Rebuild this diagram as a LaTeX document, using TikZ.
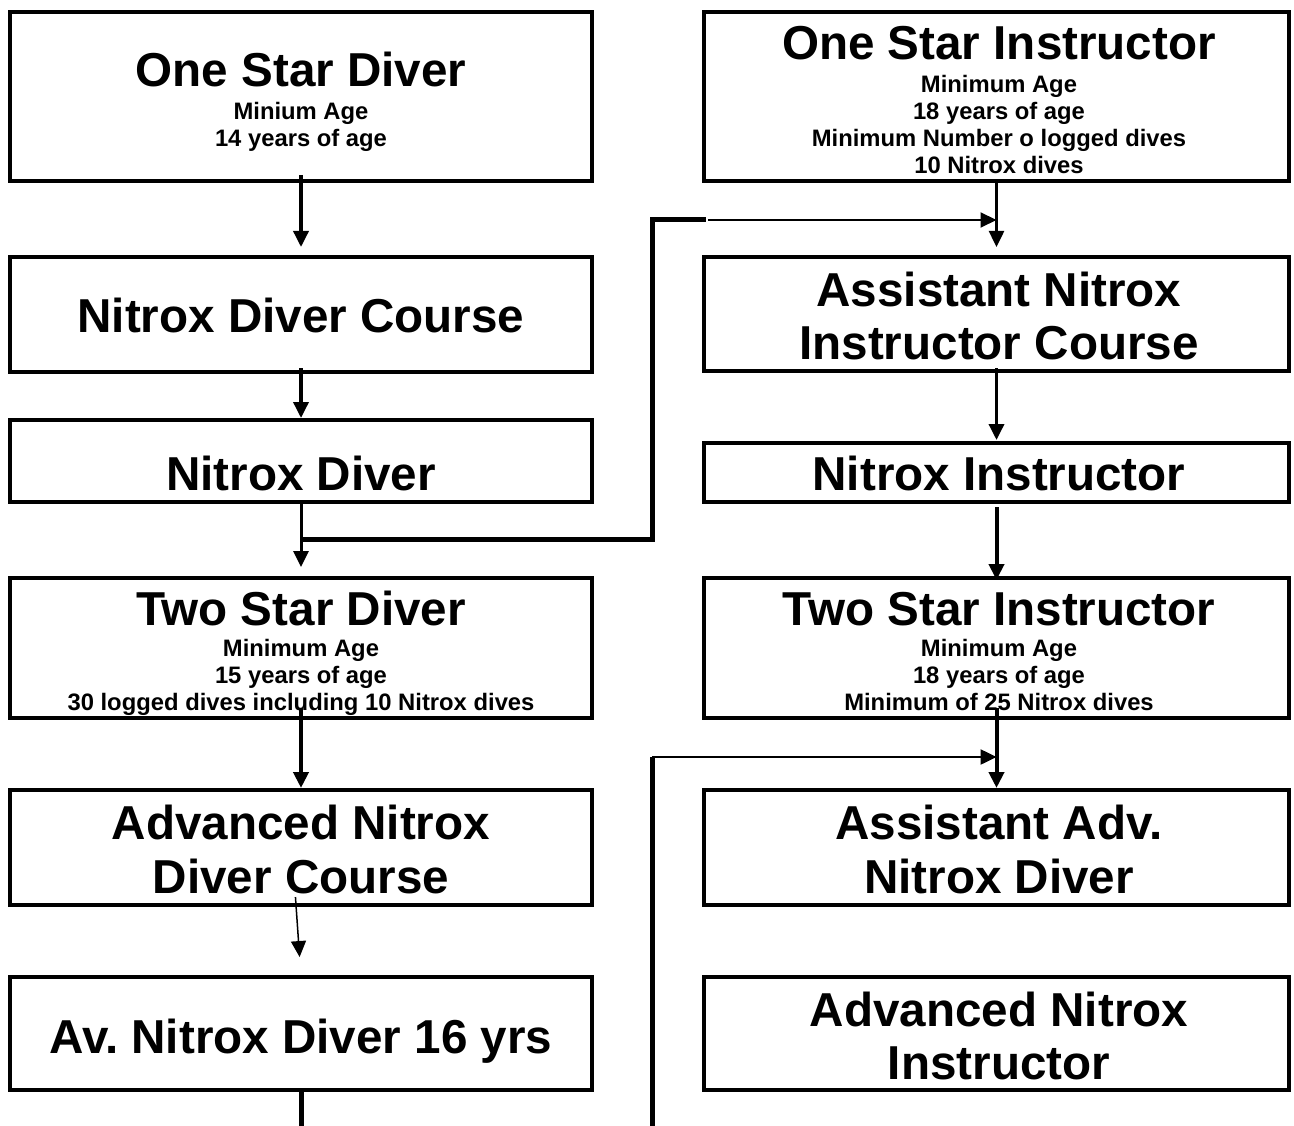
\documentclass[tikz,border=0pt]{standalone}
\usepackage{fontspec}
\setmainfont{Liberation Sans}
\usetikzlibrary{arrows.meta}
\frenchspacing

\tikzset{
  box/.style={draw, line width=4pt, inner sep=0pt, outer sep=0pt},
  title/.style={font=\fontsize{47.6}{53}\selectfont\bfseries, anchor=base, inner sep=0pt},
  detail/.style={font=\fontsize{23.8}{27}\selectfont\bfseries, anchor=base, inner sep=0pt},
  flow/.style={line width=3.5pt, -{Triangle[length=16pt,width=15pt]}},
  thinflow/.style={line width=2pt, -{Triangle[length=16pt,width=15pt]}},
  wire/.style={line width=5pt},
}

\begin{document}
\begin{tikzpicture}[x=1pt,y=-1pt]
\useasboundingbox (0,0) rectangle (1294,1126);

% diver column
\node[box, minimum width=582pt, minimum height=169pt] (osd) at (301,96.5) {};
\node[title] (osdT) at (301,87) {One Star Diver};
\node[detail] (osdA) at (301,119.5) {Minium Age};
\node[detail] (osdB) at (301,146.5) {14 years of age};

\node[box, minimum width=582pt, minimum height=115pt] (ndc) at (301,314.5) {};
\node[title] (ndcT) at (301,332) {Nitrox Diver Course};

\node[box, minimum width=582pt, minimum height=82pt] (nd) at (301,461) {};
\node[title] (ndT) at (301,490) {Nitrox Diver};

\node[box, minimum width=582pt, minimum height=140pt] (tsd) at (301,648) {};
\node[title] (tsdT) at (301,625) {Two Star Diver};
\node[detail] (tsdA) at (301,656) {Minimum Age};
\node[detail] (tsdB) at (301,683) {15 years of age};
\node[detail] (tsdC) at (301,710) {30 logged dives including 10 Nitrox dives};

\node[box, minimum width=582pt, minimum height=115pt] (andc) at (301,847.5) {};
\node[title] (andcT) at (301,839) {Advanced Nitrox};
\node[title] (andcU) at (301,893) {Diver Course};

\node[box, minimum width=582pt, minimum height=113pt] (avd) at (301,1033.5) {};
\node[title] (avdT) at (301,1053) {Av. Nitrox Diver 16 yrs};

% instructor column
\node[box, minimum width=585pt, minimum height=169pt] (osi) at (996.5,96.5) {};
\node[title] (osiT) at (999,60) {One Star Instructor};
\node[detail] (osiA) at (999,92.5) {Minimum Age};
\node[detail] (osiB) at (999,119.5) {18 years of age};
\node[detail] (osiC) at (999,146.5) {Minimum Number o logged dives};
\node[detail] (osiD) at (999,173.5) {10 Nitrox dives};

\node[box, minimum width=585pt, minimum height=114pt] (anic) at (996.5,314) {};
\node[title] (anicT) at (999,306) {Assistant Nitrox};
\node[title] (anicU) at (999,359) {Instructor Course};

\node[box, minimum width=585pt, minimum height=59pt] (ni) at (996.5,472.5) {};
\node[title] (niT) at (999,490) {Nitrox Instructor};

\node[box, minimum width=585pt, minimum height=140pt] (tsi) at (996.5,648) {};
\node[title] (tsiT) at (999,625) {Two Star Instructor};
\node[detail] (tsiA) at (999,656) {Minimum Age};
\node[detail] (tsiB) at (999,683) {18 years of age};
\node[detail] (tsiC) at (999,710) {Minimum of 25 Nitrox dives};

\node[box, minimum width=585pt, minimum height=115pt] (aand) at (996.5,847.5) {};
\node[title] (aandT) at (999,839) {Assistant Adv.};
\node[title] (aandU) at (999,893) {Nitrox Diver};

\node[box, minimum width=585pt, minimum height=113pt] (ani) at (996.5,1033.5) {};
\node[title] (aniT) at (999,1026) {Advanced Nitrox};
\node[title] (aniU) at (999,1079) {Instructor};

% arrows down the diver column
\draw[flow, shorten <=-6pt, shorten >=10pt] (osd.south) -- (ndc.north);
\draw[flow, shorten <=-4pt, shorten >=2pt] (ndc.south) -- (nd.north);
\draw[line width=3pt, -{Triangle[length=16pt,width=15pt]}, shorten >=11pt] (nd.south) -- (tsd.north);
\draw[line width=4pt, -{Triangle[length=16pt,width=15pt]}, shorten <=-10pt, shorten >=2pt] (tsd.south) -- (andc.north);
\draw[line width=1.5pt, -{Triangle[length=16pt,width=15pt]}, shorten <=-8pt, shorten >=20pt] ([xshift=-5pt]andc.south) -- (avd.north);
\coordinate (offA) at (301,1126);
\draw[wire] (avd.south) -- (offA);

% arrows down the instructor column
\draw[line width=2.5pt, -{Triangle[length=16pt,width=15pt]}, shorten >=10pt] (osi.south) -- (anic.north);
\draw[flow, shorten <=-3pt, shorten >=3pt] (anic.south) -- (ni.north);
\draw[line width=4pt, -{Triangle[length=16pt,width=15pt]}, shorten <=5pt, shorten >=-2pt] (ni.south) -- (tsi.north);
\draw[line width=4pt, -{Triangle[length=16pt,width=15pt]}, shorten <=-10pt, shorten >=2pt] (tsi.south) -- (aand.north);

% cross links
\coordinate (bendA) at (652,539);
\coordinate (bendB) at (652,220);
\coordinate (gapA) at (706,220);
\draw[wire] (nd.south |- bendA) -- (bendA) -- (bendB) -- (gapA);
\draw[thinflow] ([xshift=2pt]gapA) -- (gapA -| osi.south);

\coordinate (bendC) at (652,757);
\coordinate (offB) at (652,1126);
\draw[wire] (offB) -- (bendC);
\draw[line width=2.5pt, -{Triangle[length=16pt,width=15pt]}] (bendC) -- (bendC -| tsi.south);
\end{tikzpicture}
\end{document}
